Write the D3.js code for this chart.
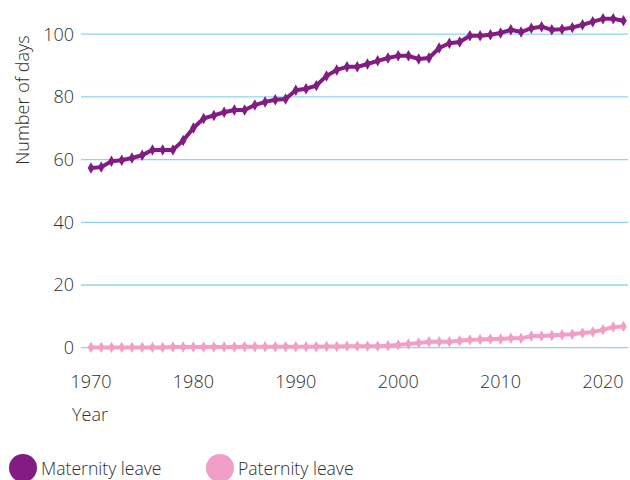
<!DOCTYPE html>
<html>
<head>
<meta charset="utf-8">
<script src="https://cdn.jsdelivr.net/npm/d3@7"></script>
<style>
  html, body { margin: 0; padding: 0; background: #fff; }
  svg { display: block; font-family: "Open Sans", "Noto Sans", sans-serif; }
</style>
</head>
<body>
<svg id="chart" width="630" height="480"></svg>
<script>
// Years covered by both series
const years = d3.range(1970, 2023);

// Maternity leave, number of days per year
const maternity = [
  57.3, 57.6, 59.5, 59.8, 60.5, 61.4, 63.1, 63.1, 63.1, 66.1,
  70.1, 73.1, 74.1, 75.1, 75.8, 75.8, 77.4, 78.4, 79.1, 79.3,
  82.1, 82.6, 83.6, 86.7, 88.6, 89.6, 89.6, 90.5, 91.5, 92.4,
  93.1, 93.1, 92.1, 92.4, 95.6, 97.1, 97.5, 99.5, 99.5, 99.8,
  100.4, 101.4, 100.7, 101.9, 102.4, 101.4, 101.6, 102.1, 103.0, 104.0,
  104.9, 104.9, 104.3
];

// Paternity leave, number of days per year
const paternity = [
  0.1, 0.1, 0.1, 0.1, 0.1, 0.1, 0.1, 0.1, 0.2, 0.2,
  0.2, 0.2, 0.2, 0.2, 0.2, 0.3, 0.3, 0.3, 0.3, 0.3,
  0.3, 0.3, 0.3, 0.4, 0.4, 0.5, 0.5, 0.5, 0.5, 0.6,
  0.9, 1.2, 1.5, 1.9, 1.9, 1.9, 2.2, 2.5, 2.6, 2.8,
  2.8, 3.0, 3.0, 3.7, 3.7, 3.9, 4.1, 4.3, 4.7, 5.0,
  5.7, 6.6, 6.8
];

const yTicks = [0, 20, 40, 60, 80, 100];
const xTicks = [1970, 1980, 1990, 2000, 2010, 2020];

const seriesNames = ["Maternity leave", "Paternity leave"];
const seriesColors = ["#821c83", "#f29fc7"];

const textColor = "#2e2e2e";

const svg = d3.select("#chart");

const x = d3.scaleLinear().domain([1970, 2020]).range([91, 603]);
const y = d3.scaleLinear().domain([0, 100]).range([347.7, 34.2]);

// Horizontal gridlines
svg.append("g")
  .selectAll("line")
  .data(yTicks)
  .join("line")
  .attr("x1", 81)
  .attr("x2", 628)
  .attr("y1", d => y(d))
  .attr("y2", d => y(d))
  .attr("stroke", "#8fd4f2")
  .attr("stroke-width", 1.3);

// Y tick labels
svg.append("g")
  .selectAll("text")
  .data(yTicks)
  .join("text")
  .attr("x", 74)
  .attr("y", d => y(d))
  .attr("dy", "0.35em")
  .attr("text-anchor", "end")
  .attr("fill", textColor)
  .attr("font-size", 18)
  .attr("font-weight", 300)
  .text(d => d);

// X tick labels
svg.append("g")
  .selectAll("text")
  .data(xTicks)
  .join("text")
  .attr("x", d => x(d))
  .attr("y", 388)
  .attr("text-anchor", "middle")
  .attr("fill", textColor)
  .attr("font-size", 18)
  .attr("font-weight", 300)
  .text(d => d);

// Axis titles
svg.append("text")
  .attr("transform", "translate(29,100) rotate(-90)")
  .attr("text-anchor", "middle")
  .attr("fill", textColor)
  .attr("font-size", 18)
  .attr("font-weight", 300)
  .text("Number of days");

svg.append("text")
  .attr("x", 72)
  .attr("y", 421)
  .attr("fill", textColor)
  .attr("font-size", 18)
  .attr("font-weight", 300)
  .text("Year");

// Series lines with markers
const line = d3.line()
  .x((d, i) => x(years[i]))
  .y(d => y(d));

const marker = d3.symbol().type(d3.symbolDiamond).size(38);

[paternity, maternity].forEach((values, k) => {
  const color = k === 0 ? seriesColors[1] : seriesColors[0];
  const g = svg.append("g");
  g.append("path")
    .datum(values)
    .attr("d", line)
    .attr("fill", "none")
    .attr("stroke", color)
    .attr("stroke-width", 4)
    .attr("stroke-linejoin", "round");
  g.selectAll("path.m")
    .data(values)
    .join("path")
    .attr("class", "m")
    .attr("transform", (d, i) => `translate(${x(years[i])},${y(d)})`)
    .attr("d", marker)
    .attr("fill", color);
});

// Legend
const legend = svg.append("g");
const legendX = [23, 220];
seriesNames.forEach((name, i) => {
  legend.append("circle")
    .attr("cx", legendX[i])
    .attr("cy", 468)
    .attr("r", 14)
    .attr("fill", seriesColors[i]);
  legend.append("text")
    .attr("x", legendX[i] + 18)
    .attr("y", 475)
    .attr("fill", textColor)
    .attr("font-size", 17.6)
    .attr("font-weight", 300)
    .text(name);
});
</script>
</body>
</html>
